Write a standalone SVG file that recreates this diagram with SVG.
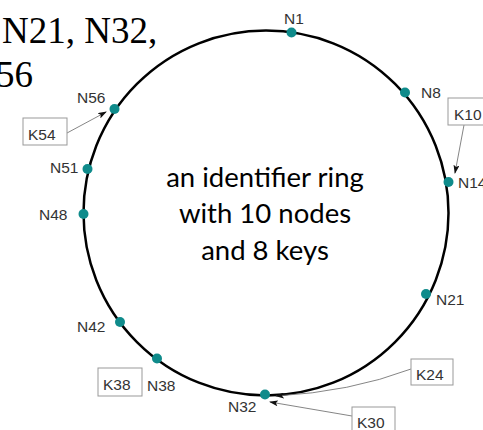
<svg xmlns="http://www.w3.org/2000/svg" width="483" height="430" viewBox="0 0 483 430">
<defs>
<style>
.lbl{font-family:"Liberation Sans",Arial,sans-serif;font-size:15.5px;fill:#333}
.key rect{fill:#fff;stroke:#999;stroke-width:1}
.dot{fill:#0f8b8b}
.conn{fill:none;stroke:#777;stroke-width:0.9}
.title{font-family:"Liberation Serif","Times New Roman",serif;font-size:37px;fill:#000}
.center{font-family:Lato,"Open Sans",sans-serif;font-size:27.5px;fill:#000;text-anchor:middle}
</style>
<marker id="ah" markerWidth="9" markerHeight="6" refX="8" refY="3" orient="auto" markerUnits="userSpaceOnUse">
<path d="M0,0 L9,3 L0,6 L2,3 Z" fill="#111"/>
</marker>
</defs>
<rect width="483" height="430" fill="#fff"/>
<text class="title" x="2" y="43">N21, N32,</text>
<text class="title" x="-4" y="87">56</text>
<g id="ring"><circle cx="266" cy="213" r="182.5" fill="none" stroke="#000" stroke-width="2.5"/></g>
<g id="center-text">
<text class="center" x="265" y="187">an identifier ring</text>
<text class="center" x="265" y="223">with 10 nodes</text>
<text class="center" x="265" y="260">and 8 keys</text>
</g>
<g id="connectors">
<path class="conn" d="M464,125 L455,173" marker-end="url(#ah)"/>
<path class="conn" d="M411,369 Q350,392 276,396" marker-end="url(#ah)"/>
<path class="conn" d="M352,416 L270,402" marker-end="url(#ah)"/>
<path class="conn" d="M67,133 L106,112" marker-end="url(#ah)"/>
</g>
<g id="N1"><circle class="dot" cx="291.5" cy="32.5" r="5"/><text class="lbl" x="284" y="24">N1</text></g>
<g id="N8"><circle class="dot" cx="405" cy="92.5" r="5"/><text class="lbl" x="421" y="98">N8</text></g>
<g id="N14"><circle class="dot" cx="448.5" cy="182" r="5"/><text class="lbl" x="458" y="188">N14</text></g>
<g id="N21"><circle class="dot" cx="426" cy="294" r="5"/><text class="lbl" x="436" y="305">N21</text></g>
<g id="N32"><circle class="dot" cx="265" cy="394.5" r="5"/><text class="lbl" x="228" y="412">N32</text></g>
<g id="N38"><circle class="dot" cx="157" cy="358.5" r="5"/><text class="lbl" x="147" y="391">N38</text></g>
<g id="N42"><circle class="dot" cx="120" cy="322" r="5"/><text class="lbl" x="77" y="332">N42</text></g>
<g id="N48"><circle class="dot" cx="83.5" cy="214" r="5"/><text class="lbl" x="39" y="220">N48</text></g>
<g id="N51"><circle class="dot" cx="87.5" cy="169" r="5"/><text class="lbl" x="50" y="173">N51</text></g>
<g id="N56"><circle class="dot" cx="114.5" cy="109" r="5"/><text class="lbl" x="77" y="103">N56</text></g>
<g id="K10" class="key"><rect x="448" y="98" width="44" height="27"/><text class="lbl" x="454" y="120">K10</text></g>
<g id="K24" class="key"><rect x="411" y="359" width="42" height="26"/><text class="lbl" x="416" y="380">K24</text></g>
<g id="K30" class="key"><rect x="352" y="407" width="43" height="27"/><text class="lbl" x="357" y="428">K30</text></g>
<g id="K38" class="key"><rect x="98" y="368" width="44" height="28"/><text class="lbl" x="103" y="390">K38</text></g>
<g id="K54" class="key"><rect x="23" y="118" width="44" height="27"/><text class="lbl" x="28" y="140">K54</text></g>
</svg>
